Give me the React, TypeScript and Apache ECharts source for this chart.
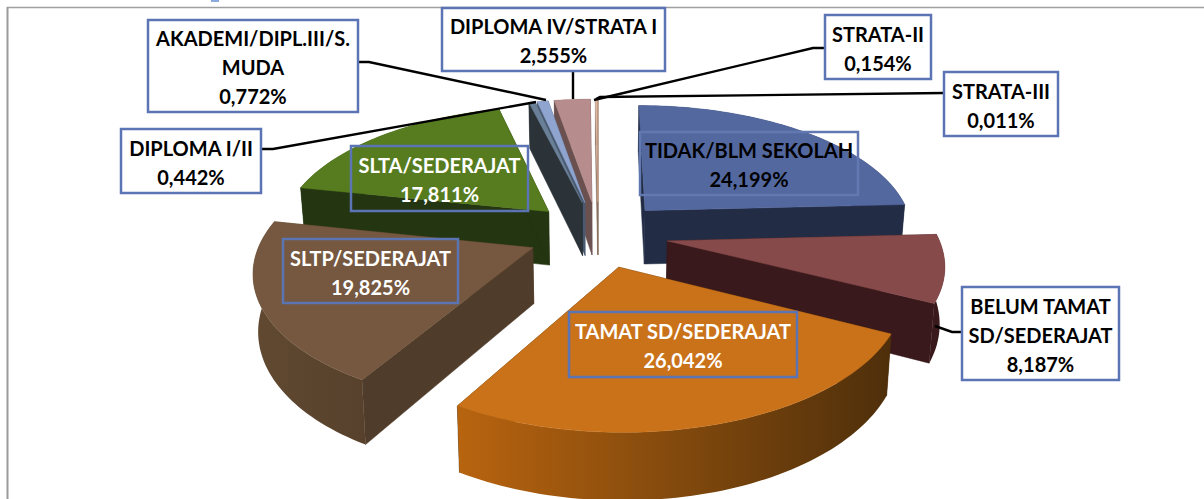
import React, { useEffect, useRef } from "react";
import * as echarts from "echarts";

const categories = ["TIDAK/BLM SEKOLAH","BELUM TAMAT SD/SEDERAJAT","TAMAT SD/SEDERAJAT","SLTP/SEDERAJAT","SLTA/SEDERAJAT","DIPLOMA I/II","AKADEMI/DIPL.III/S. MUDA","DIPLOMA IV/STRATA I","STRATA-II","STRATA-III"];
const values = [24.199,8.187,26.042,19.825,17.811,0.442,0.772,2.555,0.154,0.011];
const valueLabels = ["24,199%","8,187%","26,042%","19,825%","17,811%","0,442%","0,772%","2,555%","0,154%","0,011%"];
const labelLines = [["TIDAK/BLM SEKOLAH"],["BELUM TAMAT","SD/SEDERAJAT"],["TAMAT SD/SEDERAJAT"],["SLTP/SEDERAJAT"],["SLTA/SEDERAJAT"],["DIPLOMA I/II"],["AKADEMI/DIPL.III/S.","MUDA"],["DIPLOMA IV/STRATA I"],["STRATA-II"],["STRATA-III"]];
const topColors = ["#5468a0","#874a4b","#c9721a","#75583f","#567c1f","#6a8098","#8fa5d0","#b78c8d","#d9b8a8","#e0b090"];
const sideColors = ["#222c45","#39191b","#4e2f0b","#503c2a","#243511","#2b3338","#4a5a70","#6b5050","#8a7060","#8a7060"];
const arcLeft = ["#222c45","#39191b","#b8640f","#614931","#243511","#2b3338","#4a5a70","#6b5050","#8a7060","#8a7060"];
const arcRight = ["#222c45","#39191b","#4e2f0b","#57412c","#243511","#2b3338","#4a5a70","#6b5050","#8a7060","#8a7060"];
const textColors = ["#000","#000","#fff","#fff","#fff","#000","#000","#000","#000","#000"];
// box: x0,x1,y0,y1
const boxes = [[640,858,132,195],[962,1119,287,380],[569,797,312,377],[283,458,239,303],[351,528,146,211],[121,261,129,193],[148,358,20,112],[442,665,8,71],[825,931,15,79],[944,1058,72,136]];
const leaders: number[][][] = [[],[[961,332],[952,332],[935,326]],[],[],[],[[261,149],[273,149],[536,102]],[[358,62],[369,62],[546,100]],[[573,71],[573,99]],[[825,48],[813,48],[594,100]],[[944,93],[600,97],[596,99]]];
const drawOrder = [0,8,9,7,6,5,4,1,3,2];

const CX = 598, CY = 234, RX = 270, RY = 128, K = 0.155, EXPL = 0.26, DEPTH = 55, SHRINK = 0.985;
const total = values.reduce((a, b) => a + b, 0);
const starts: number[] = [];
values.reduce((acc, v, i) => { starts[i] = acc; return acc + v; }, 0);

function top(x: number, y: number) {
  const p = 1 / (1 - K * y);
  return [CX + RX * x * p, CY + RY * y * p, p];
}
function bot(x: number, y: number) {
  const [X, Y, p] = top(x, y);
  return [CX + (X - CX) * SHRINK, Y + DEPTH * p];
}

function renderSlice(_: any, api: any) {
  const i = api.value(0);
  const a0 = (starts[i] / total) * Math.PI * 2;
  const a1 = ((starts[i] + values[i]) / total) * Math.PI * 2;
  const mid = (a0 + a1) / 2;
  const ex = EXPL * Math.sin(mid), ey = -EXPL * Math.cos(mid);
  const n = Math.max(2, Math.ceil((a1 - a0) * 40));
  const rim: number[][] = [];
  for (let k = 0; k <= n; k++) {
    const a = a0 + ((a1 - a0) * k) / n;
    rim.push([ex + Math.sin(a), ey - Math.cos(a)]);
  }
  const apexT = top(ex, ey).slice(0, 2);
  const apexB = bot(ex, ey);
  const rimT = rim.map((r) => top(r[0], r[1]).slice(0, 2));
  const rimB = rim.map((r) => bot(r[0], r[1]));
  const solid = (fill: string) => ({ fill, stroke: fill, lineWidth: 0.5 });
  const children: any[] = [
    { type: "polygon", shape: { points: [apexT, rimT[0], rimB[0], apexB] }, style: solid(sideColors[i]) },
    { type: "polygon", shape: { points: [apexT, rimT[n], rimB[n], apexB] }, style: solid(sideColors[i]) },
    {
      type: "polygon",
      shape: { points: [...rimT, ...rimB.slice().reverse()] },
      style: {
        fill: new echarts.graphic.LinearGradient(0, 0, 1, 0, [
          { offset: 0, color: arcLeft[i] },
          { offset: 1, color: arcRight[i] },
        ]),
      },
    },
    { type: "polygon", shape: { points: [apexT, ...rimT] }, style: solid(topColors[i]) },
  ];
  return { type: "group", children };
}

function renderLabel(_: any, api: any) {
  const i = api.value(0);
  const [x0, x1, y0, y1] = boxes[i];
  const lines = [...labelLines[i], valueLabels[i]];
  const lh = 29;
  const cy = (y0 + y1) / 2 + 1;
  const children: any[] = [];
  if (leaders[i].length) children.push({ type: "polyline", shape: { points: leaders[i] }, style: { stroke: "#000", lineWidth: 2.4, fill: "none" } });
  const white = textColors[i] === "#000" && i !== 0;
  children.push({ type: "rect", shape: { x: x0, y: y0, width: x1 - x0, height: y1 - y0 }, style: { fill: white ? "#fff" : "none", stroke: i === 0 ? "#6178b0" : "#5b74b4", lineWidth: 2.5 } });
  lines.forEach((t, k) => {
    children.push({ type: "text", x: (x0 + x1) / 2, y: cy + (k - (lines.length - 1) / 2) * lh, style: { text: t, fill: textColors[i], font: 'bold 20px "Lato", sans-serif', align: "center", verticalAlign: "middle" } });
  });
  return { type: "group", children };
}

export default function App() {
  const ref = useRef<HTMLDivElement>(null);
  useEffect(() => {
    const chart = echarts.init(ref.current!, undefined, { renderer: "svg" });
    chart.setOption({
      animation: false,
      backgroundColor: "#fff",
      graphic: [
        { type: "line", shape: { x1: 7, y1: 7.5, x2: 1204, y2: 7.5 }, style: { stroke: "#a0a0a0", lineWidth: 1.5 } },
        { type: "line", shape: { x1: 7.5, y1: 7, x2: 7.5, y2: 499 }, style: { stroke: "#9a9a9a", lineWidth: 2 } },
        { type: "rect", shape: { x: 211, y: 0, width: 8, height: 2 }, style: { fill: "#8ea9db" } },
      ],
      series: [
        { type: "custom", coordinateSystem: "none", renderItem: renderSlice, data: drawOrder.map((i) => [i, values[i], categories[i]]), z: 2, silent: true },
        { type: "custom", coordinateSystem: "none", renderItem: renderLabel, data: categories.map((c, i) => [i, values[i], c]), z: 3, silent: true },
      ],
    });
    return () => chart.dispose();
  }, []);
  return <div ref={ref} style={{ position: "fixed", left: 0, top: 0, width: 1204, height: 499 }} />;
}
